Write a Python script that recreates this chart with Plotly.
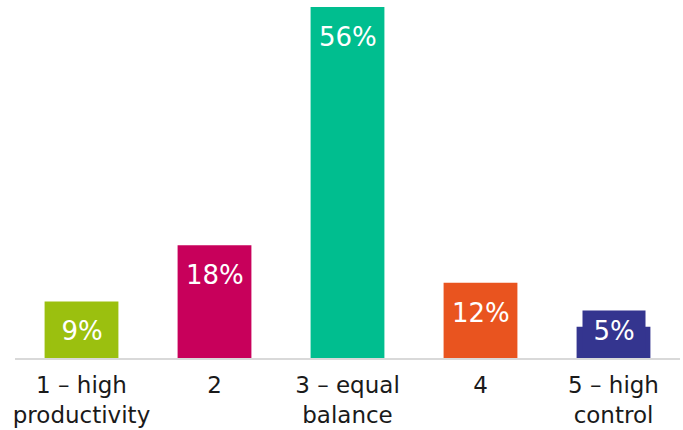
import plotly.graph_objects as go

# Survey shares by preference (1 = high productivity ... 5 = high control)
categories = ["1 – high<br>productivity", "2", "3 – equal<br>balance", "4", "5 – high<br>control"]
values = [9, 18, 56, 12, 5]
colors = ["#9bc00f", "#c8005b", "#00be8f", "#e9541f", "#34358f"]

y_max = 56
plot_top, plot_bottom = 7, 72
fig_h = 430
px_per_unit = (fig_h - plot_top - plot_bottom) / y_max
font_family = "DejaVu Sans, Verdana, sans-serif"

fig = go.Figure(
    go.Bar(
        x=list(range(len(categories))),
        y=values,
        marker=dict(color=colors, line=dict(width=0)),
        hoverinfo="skip",
    )
)

# Value labels sit near the top inside each bar; short bars get a
# coloured box that rises above the bar so the label still fits.
label_font = dict(family=font_family, size=26, color="white")
for i, (val, col) in enumerate(zip(values, colors)):
    bar_px = val * px_per_unit
    shift = -min(30, bar_px - 27)
    overflow = bar_px - 27 < 30
    fig.add_annotation(
        x=i, y=val, yref="y", xref="x",
        text=f"{val}%",
        showarrow=False,
        yanchor="middle",
        yshift=shift,
        font=label_font,
        bgcolor=col if overflow else "rgba(0,0,0,0)",
        borderpad=5,
        width=52 if overflow else None,
    )

fig.update_layout(
    width=683, height=fig_h,
    margin=dict(l=15, r=3, t=plot_top, b=plot_bottom),
    paper_bgcolor="white", plot_bgcolor="white",
    bargap=0.445,
    showlegend=False,
    xaxis=dict(
        tickmode="array",
        tickvals=list(range(len(categories))),
        ticktext=categories,
        range=[-0.5, len(categories) - 0.5],
        showline=True, linecolor="#d9d9d9", linewidth=2,
        showgrid=False, ticks="",
        ticklabelstandoff=5,
        tickfont=dict(family=font_family, size=23, color="#1a1a1a"),
        fixedrange=True,
    ),
    yaxis=dict(range=[0, y_max], visible=False, fixedrange=True),
)

fig.write_html("out.html")
